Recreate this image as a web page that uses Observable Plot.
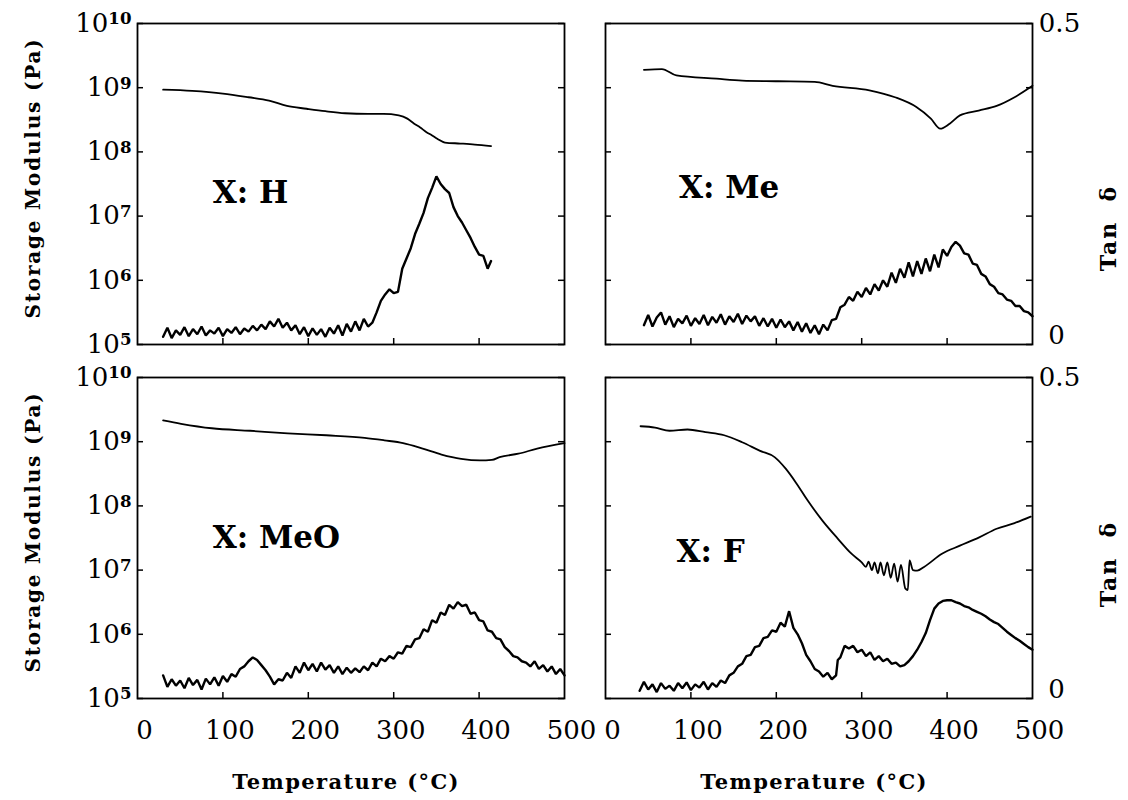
<!DOCTYPE html>
<html>
<head>
<meta charset="utf-8">
<script src="https://cdn.jsdelivr.net/npm/d3@7"></script>
<script src="https://cdn.jsdelivr.net/npm/@observablehq/plot@0.6"></script>
<style>
  body { margin: 0; background: #fff; }
  #root { position: relative; width: 1128px; height: 800px; background: #fff; }
  #root svg { position: absolute; left: 0; top: 0; overflow: visible; }
</style>
</head>
<body>
<div id="root"></div>
<script>
// ---------- ticks ----------
const xTicks = [0, 100, 200, 300, 400, 500];
const innerXTicks = [100, 200, 300, 400];
const modTicks = [1e5, 1e6, 1e7, 1e8, 1e9, 1e10];
const tanTicks = [0, 0.5];

// ---------- X: H ----------
const tempModH = [30, 64, 100, 130, 154, 175, 198, 220, 243, 270, 288, 306, 316, 324, 331, 338, 345, 351, 360, 378, 395, 414];
const modH = [9.3e8, 8.9e8, 8.1e8, 7.1e8, 6.3e8, 5.2e8, 4.7e8, 4.3e8, 4.0e8, 3.9e8, 3.9e8, 3.7e8, 3.3e8, 2.75e8, 2.4e8, 2.05e8, 1.8e8, 1.6e8, 1.4e8, 1.35e8, 1.3e8, 1.23e8];
const tempTanH = [30,35,40,45,50,55,60,65,70,75,80,85,90,95,100,105,110,115,120,125,130,135,140,145,150,155,160,165,170,175,180,185,190,195,200,205,210,215,220,225,230,235,240,245,250,255,260,265,270,275,280,285,290,295,300,305,310,315,320,325,330,335,340,345,350,355,360,365,370,375,380,385,390,395,400,405,410,414];
const tanH = [0.012,0.026,0.010,0.022,0.015,0.027,0.013,0.024,0.016,0.028,
  0.014,0.022,0.017,0.026,0.013,0.024,0.018,0.027,0.016,0.025,
  0.020,0.029,0.022,0.031,0.024,0.036,0.028,0.040,0.026,0.034,
  0.022,0.030,0.016,0.027,0.013,0.025,0.015,0.024,0.012,0.026,
  0.017,0.030,0.014,0.032,0.020,0.036,0.022,0.040,0.028,0.034,
  0.050,0.068,0.078,0.086,0.080,0.082,0.118,0.134,0.150,0.172,
  0.188,0.205,0.228,0.244,0.262,0.250,0.242,0.236,0.214,0.200,
  0.190,0.178,0.166,0.152,0.140,0.138,0.118,0.130];

// ---------- X: Me ----------
const tempModMe = [45, 66, 83, 130, 160, 202, 245, 266, 309, 339, 364, 381, 392, 403, 415, 437, 458, 479, 500];
const modMe = [1.9e9, 1.95e9, 1.55e9, 1.38e9, 1.29e9, 1.26e9, 1.23e9, 1.07e9, 9.1e8, 7.1e8, 5.0e8, 3.3e8, 2.3e8, 2.75e8, 3.7e8, 4.4e8, 5.2e8, 7.1e8, 1.07e9];
const tempTanMe = [45,50,55,60,65,70,75,80,85,90,95,100,105,110,115,120,125,130,135,140,145,150,155,160,165,170,175,180,185,190,195,200,205,210,215,220,225,230,235,240,245,250,255,260,265,270,275,280,285,290,295,300,305,310,315,320,325,330,335,340,345,350,355,360,365,370,375,380,385,390,395,400,405,410,415,420,425,430,435,440,445,450,455,460,465,470,475,480,485,490,495,500];
const tanMe = [0.030,0.046,0.028,0.042,0.050,0.031,0.044,0.027,0.040,0.033,
  0.045,0.029,0.041,0.032,0.046,0.030,0.043,0.034,0.047,0.031,
  0.044,0.035,0.048,0.032,0.045,0.036,0.044,0.029,0.041,0.028,
  0.040,0.026,0.039,0.027,0.036,0.022,0.035,0.020,0.033,0.018,
  0.030,0.016,0.031,0.022,0.038,0.040,0.058,0.062,0.074,0.068,
  0.082,0.074,0.088,0.078,0.094,0.084,0.100,0.090,0.112,0.096,
  0.118,0.104,0.128,0.106,0.130,0.110,0.134,0.114,0.140,0.120,
  0.148,0.138,0.152,0.160,0.154,0.142,0.140,0.126,0.124,0.110,
  0.106,0.094,0.090,0.080,0.078,0.070,0.068,0.060,0.060,0.052,
  0.050,0.044];

// ---------- X: MeO ----------
const tempModMeO = [30, 51, 87, 132, 176, 221, 266, 289, 311, 334, 356, 379, 401, 415, 424, 446, 468, 500];
const modMeO = [2.14e9, 1.9e9, 1.62e9, 1.48e9, 1.35e9, 1.26e9, 1.15e9, 1.05e9, 9.5e8, 7.8e8, 6.3e8, 5.4e8, 5.1e8, 5.2e8, 5.75e8, 6.5e8, 7.8e8, 9.5e8];
const tempTanMeO = [30,35,40,45,50,55,60,65,70,75,80,85,90,95,100,105,110,115,120,125,130,135,140,145,150,155,160,165,170,175,180,185,190,195,200,205,210,215,220,225,230,235,240,245,250,255,260,265,270,275,280,285,290,295,300,305,310,315,320,325,330,335,340,345,350,355,360,365,370,375,380,385,390,395,400,405,410,415,420,425,430,435,440,445,450,455,460,465,470,475,480,485,490,495,500];
const tanMeO = [0.036,0.018,0.030,0.020,0.028,0.016,0.032,0.021,0.029,0.014,
  0.031,0.022,0.033,0.020,0.035,0.026,0.038,0.034,0.046,0.050,
  0.058,0.064,0.060,0.052,0.044,0.034,0.022,0.030,0.028,0.040,
  0.032,0.050,0.040,0.056,0.044,0.054,0.042,0.056,0.045,0.052,
  0.040,0.050,0.038,0.048,0.040,0.047,0.041,0.050,0.044,0.056,
  0.050,0.062,0.058,0.066,0.062,0.072,0.070,0.082,0.080,0.092,
  0.094,0.108,0.104,0.122,0.118,0.134,0.130,0.146,0.140,0.150,
  0.144,0.146,0.132,0.134,0.122,0.120,0.106,0.104,0.094,0.092,
  0.080,0.074,0.066,0.064,0.058,0.056,0.050,0.058,0.046,0.052,
  0.042,0.050,0.038,0.046,0.036];

// ---------- X: F ----------
const tempModF = [41, 58, 75, 96, 117, 139, 160, 181, 198, 211, 224, 237, 254, 271, 288, 300, 305, 308, 312, 315, 319, 322, 326, 330, 334, 338, 342, 346, 351, 354, 356, 360, 365, 373, 394, 415, 437, 458, 479, 498];
const modF = [1.74e9, 1.66e9, 1.48e9, 1.55e9, 1.41e9, 1.26e9, 9.8e8, 7.2e8, 5.75e8, 3.8e8, 2.2e8, 1.2e8, 5.9e7, 3.2e7, 1.8e7, 1.32e7, 1.12e7, 1.35e7, 1.0e7, 1.32e7, 8.9e6, 1.32e7, 8.3e6, 1.32e7, 7.6e6, 1.26e7, 6.6e6, 1.2e7, 5.2e6, 4.9e6, 1.41e7, 1.0e7, 9.8e6, 1.12e7, 1.8e7, 2.4e7, 3.2e7, 4.4e7, 5.4e7, 6.8e7];
const tempTanF = [40,45,50,55,60,65,70,75,80,85,90,95,100,105,110,115,120,125,130,135,140,145,150,155,160,165,170,175,180,185,190,195,200,205,210,215,220,225,230,235,240,245,250,255,260,265,270,272,275,280,285,290,295,300,305,310,315,320,325,330,335,340,345,350,355,360,365,370,375,380,385,390,395,400,405,410,415,420,425,430,435,440,445,450,455,460,465,470,475,480,485,490,495,500];
const tanF = [0.012,0.026,0.014,0.022,0.010,0.024,0.015,0.020,0.012,0.024,
  0.016,0.025,0.013,0.022,0.017,0.026,0.014,0.024,0.018,0.028,
  0.024,0.036,0.040,0.050,0.054,0.066,0.068,0.080,0.082,0.094,
  0.096,0.106,0.104,0.118,0.112,0.136,0.110,0.100,0.086,0.068,
  0.058,0.046,0.042,0.034,0.040,0.030,0.036,
  0.060,
  0.064,0.082,0.078,0.082,0.072,0.076,0.066,0.072,0.060,0.066,
  0.058,0.062,0.054,0.056,0.050,0.052,0.058,0.066,0.076,0.088,
  0.102,0.122,0.140,0.148,0.152,0.153,0.153,0.150,0.148,0.144,
  0.142,0.138,0.135,0.132,0.128,0.123,0.119,0.116,0.110,0.104,
  0.099,0.094,0.090,0.085,0.080,0.076];

// ---------- layout ----------
const W = 1128, H = 800, PW = 427, PH = 321;
const FONT = "'DejaVu Serif', serif";
const panels = [
  {name: "X: H",   left: 137, top: 23,  modT: tempModH,   mod: modH,   tanT: tempTanH,   tan: tanH,   nameX: 88, nameY: 2.3e7, leftLabels: true,  rightLabels: false, bottomLabels: false, tanDy: 0},
  {name: "X: Me",  left: 605, top: 23,  modT: tempModMe,  mod: modMe,  tanT: tempTanMe,  tan: tanMe,  nameX: 86, nameY: 2.7e7, leftLabels: false, rightLabels: true,  bottomLabels: false, tanDy: 44},
  {name: "X: MeO", left: 137, top: 377, modT: tempModMeO, mod: modMeO, tanT: tempTanMeO, tan: tanMeO, nameX: 88, nameY: 3.1e7, leftLabels: true,  rightLabels: false, bottomLabels: true,  tanDy: 0},
  {name: "X: F",   left: 605, top: 377, modT: tempModF,   mod: modF,   tanT: tempTanF,   tan: tanF,   nameX: 83, nameY: 1.9e7, leftLabels: false, rightLabels: true,  bottomLabels: true,  tanDy: 26}
];

const root = document.getElementById("root");

function polish(svg) {
  const ns = "http://www.w3.org/2000/svg";
  svg.querySelectorAll("text").forEach(t => {
    const s = t.textContent;
    const m = /^10\^(\d+)$/.exec(s);
    if (m) {
      t.textContent = "";
      const a = document.createElementNS(ns, "tspan");
      a.textContent = "10";
      const b = document.createElementNS(ns, "tspan");
      b.setAttribute("dy", "-0.45em");
      b.setAttribute("font-size", "0.64em");
      b.setAttribute("font-weight", "bold");
      b.textContent = m[1];
      t.append(a, b);
    } else if (s.startsWith("Storage")) {
      t.style.letterSpacing = "1.8px";
    } else if (s.startsWith("Temperature")) {
      t.style.letterSpacing = "1.4px";
    } else if (s.startsWith("Tan")) {
      t.style.letterSpacing = "2px";
    }
  });
}

for (const cfg of panels) {
  const common = {
    width: W, height: H,
    marginLeft: cfg.left, marginRight: W - cfg.left - PW,
    marginTop: cfg.top, marginBottom: H - cfg.top - PH,
    style: {background: "transparent", fontFamily: FONT, color: "#000", overflow: "visible"},
    x: {domain: [0, 500], axis: null}
  };
  const modData = cfg.modT.map((t, i) => ({t, v: cfg.mod[i]}));
  const tanData = cfg.tanT.map((t, i) => ({t, v: cfg.tan[i]}));

  const pMod = Plot.plot({
    ...common,
    y: {type: "log", domain: [1e5, 1e10], axis: null},
    marks: [
      Plot.frame({stroke: "#000", strokeWidth: 1.8}),
      Plot.tickY(modTicks, {y: d => d, insetRight: PW - 6, stroke: "#000", strokeWidth: 1.5}),
      Plot.tickY(modTicks, {y: d => d, insetLeft: PW - 6, stroke: "#000", strokeWidth: 1.5}),
      Plot.tickX(innerXTicks, {x: d => d, insetTop: PH - 6, stroke: "#000", strokeWidth: 1.5}),
      Plot.line(modData, {x: "t", y: "v", stroke: "#000", strokeWidth: 1.8, curve: "monotone-x"}),
      Plot.text([cfg.name], {x: cfg.nameX, y: cfg.nameY, textAnchor: "start", lineAnchor: "middle", fontSize: 31, fontWeight: "bold", fill: "#000"}),
      ...(cfg.leftLabels ? [
        Plot.text(modTicks, {y: d => d, frameAnchor: "left", dx: -6, textAnchor: "end", lineAnchor: "middle",
          text: d => "10^" + Math.round(Math.log10(d)), fontSize: 26, fill: "#000"}),
        Plot.text(["Storage Modulus (Pa)"], {frameAnchor: "left", rotate: -90, dx: -104, dy: -6, textAnchor: "middle", lineAnchor: "middle", fontSize: 20, fontWeight: "bold", fill: "#000"})
      ] : []),
      ...(cfg.bottomLabels ? [
        Plot.text(xTicks, {x: d => d, text: d => String(d), frameAnchor: "bottom", dy: 32, dx: 7, textAnchor: "middle", lineAnchor: "middle", fontSize: 26, fill: "#000"}),
        Plot.text(["Temperature (°C)"], {frameAnchor: "bottom", dy: 84, dx: -5, textAnchor: "middle", lineAnchor: "middle", fontSize: 21, fontWeight: "bold", fill: "#000"})
      ] : [])
    ]
  });
  polish(pMod);
  root.appendChild(pMod);

  const pTan = Plot.plot({
    ...common,
    y: {domain: [0, 0.5], axis: null},
    marks: [
      Plot.line(tanData, {x: "t", y: "v", stroke: "#000", strokeWidth: 2.4, strokeLinejoin: "miter"}),
      ...(cfg.rightLabels ? [
        Plot.text(tanTicks.filter(d => d > 0), {y: d => d, text: d => String(d), frameAnchor: "right", dx: 27, textAnchor: "middle", lineAnchor: "middle", fontSize: 26, fill: "#000"}),
        Plot.text(tanTicks.filter(d => d === 0), {y: d => d, text: d => String(d), frameAnchor: "right", dx: 24, dy: -9, textAnchor: "middle", lineAnchor: "middle", fontSize: 26, fill: "#000"}),
        Plot.text(["Tan\u00a0\u00a0δ"], {frameAnchor: "right", rotate: -90, dx: 76, dy: cfg.tanDy, textAnchor: "middle", lineAnchor: "middle", fontSize: 22, fontWeight: "bold", fill: "#000"})
      ] : [])
    ]
  });
  polish(pTan);
  root.appendChild(pTan);
}
</script>
</body>
</html>
